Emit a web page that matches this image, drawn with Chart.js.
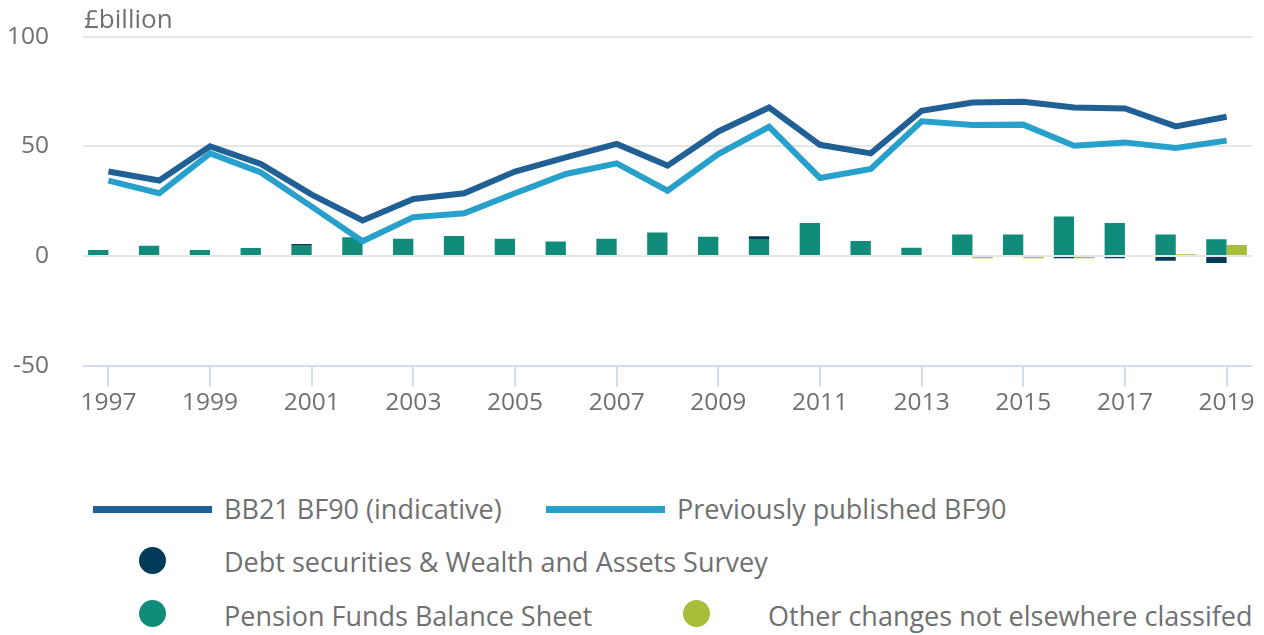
<!DOCTYPE html>
<html>
<head>
<meta charset="utf-8">
<script src="https://cdn.jsdelivr.net/npm/chart.js@4"></script>
<style>
  body{margin:0;background:#fff;font-family:"Open Sans",sans-serif;color:#707070;}
  #wrap{position:relative;width:1264px;height:635px;overflow:hidden;}
  #chartBox{position:absolute;left:0;top:-12px;width:1264px;height:452px;}
  .txt{position:absolute;font-size:27px;line-height:27px;white-space:nowrap;}
  .ln{position:absolute;height:7px;}
  .dot{position:absolute;width:27px;height:27px;border-radius:50%;}
</style>
</head>
<body>
<div id="wrap">
  <div id="chartBox"><canvas id="chart"></canvas></div>
  <div class="txt" style="left:84px;top:5px;font-size:26px;">£billion</div>

  <div class="ln" style="left:93px;top:506px;width:119px;background:#206095;"></div>
  <div class="txt" style="left:224px;top:495px;">BB21 BF90 (indicative)</div>
  <div class="ln" style="left:546px;top:506px;width:119px;background:#27a0cc;"></div>
  <div class="txt" style="left:677px;top:495px;">Previously published BF90</div>

  <div class="dot" style="left:139px;top:547px;background:#003c57;"></div>
  <div class="txt" style="left:224px;top:548px;">Debt securities &amp; Wealth and Assets Survey</div>

  <div class="dot" style="left:139px;top:600px;background:#118c7b;"></div>
  <div class="txt" style="left:224px;top:602px;">Pension Funds Balance Sheet</div>
  <div class="dot" style="left:683px;top:600px;background:#a8bd3a;"></div>
  <div class="txt" style="left:768px;top:602px;">Other changes not elsewhere classifed</div>
</div>
<script>
const years = ['1997','1998','1999','2000','2001','2002','2003','2004','2005','2006','2007','2008','2009','2010','2011','2012','2013','2014','2015','2016','2017','2018','2019'];
const bb21 = [38.5,34.4,50,42,28,16.2,26,28.6,38.5,45,51.1,41.2,56.8,67.7,50.7,46.8,66.2,70,70.3,67.7,67.3,59.1,63.5];
const previous = [34.4,28.6,46.8,38.1,22.5,6.7,17.7,19.5,28.6,37.4,42.2,29.8,46.5,58.9,35.6,39.7,61.4,59.7,59.9,50.3,51.8,49.2,52.6];
const pension = [2.7,4.7,2.7,3.6,4.7,8.5,7.8,9.1,7.9,6.6,7.9,10.7,8.8,7.7,15,6.8,3.7,9.8,9.8,18,15,9.8,7.6];
const debt = [null,null,null,null,0.8,null,null,null,null,null,null,null,null,1.3,null,null,null,null,null,-1,-1,-2.2,-3.2];
const other = [null,null,null,null,null,null,null,null,null,null,null,null,null,null,null,null,null,-1,-1,-1,null,0.8,5];
const yTicks = [-50,0,50,100];

Chart.defaults.font.family = '"Open Sans", sans-serif';
Chart.defaults.color = '#707070';

new Chart(document.getElementById('chart'), {
  type: 'bar',
  data: {
    labels: years,
    datasets: [
      {type:'line', label:'BB21 BF90 (indicative)', data:bb21, borderColor:'#206095', borderWidth:6, pointRadius:0, tension:0, order:0},
      {type:'line', label:'Previously published BF90', data:previous, borderColor:'#27a0cc', borderWidth:6, pointRadius:0, tension:0, order:0},
      {label:'Pension Funds Balance Sheet', data:pension, backgroundColor:'#118c7b', stack:'a', order:1},
      {label:'Debt securities & Wealth and Assets Survey', data:debt, backgroundColor:'#003c57', stack:'a', order:1},
      {label:'Other changes not elsewhere classifed', data:other, backgroundColor:'#a8bd3a', stack:'b', order:1}
    ]
  },
  options: {
    responsive: true,
    maintainAspectRatio: false,
    animation: false,
    layout: {padding:{left:8, right:12, top:16, bottom:20}},
    datasets: {bar:{categoryPercentage:0.8, barPercentage:1.0}},
    plugins: {legend:{display:false}, tooltip:{enabled:false}},
    scales: {
      x: {
        offset: true,
        grid: {
          offset: false,
          drawOnChartArea: false,
          drawTicks: true,
          tickLength: 21,
          lineWidth: 2,
          color: ctx => ctx.index % 2 ? 'rgba(0,0,0,0)' : '#d3dcec'
        },
        border: {display:false},
        ticks: {
          autoSkip: false,
          maxRotation: 0,
          padding: 2,
          font: {size:24.5},
          callback: (v, i) => i % 2 ? '' : years[i]
        }
      },
      y: {
        min: -50,
        max: 100,
        afterBuildTicks: axis => { axis.ticks = yTicks.map(v => ({value:v})); },
        afterFit: axis => { axis.width = 75; },
        grid: {
          drawTicks: false,
          lineWidth: 2,
          color: ctx => ctx.tick && ctx.tick.value === -50 ? '#d3dcec' : '#e6e6e6'
        },
        border: {display:false},
        ticks: {padding:34, font:{size:24.5}}
      }
    }
  }
});
</script>
</body>
</html>
